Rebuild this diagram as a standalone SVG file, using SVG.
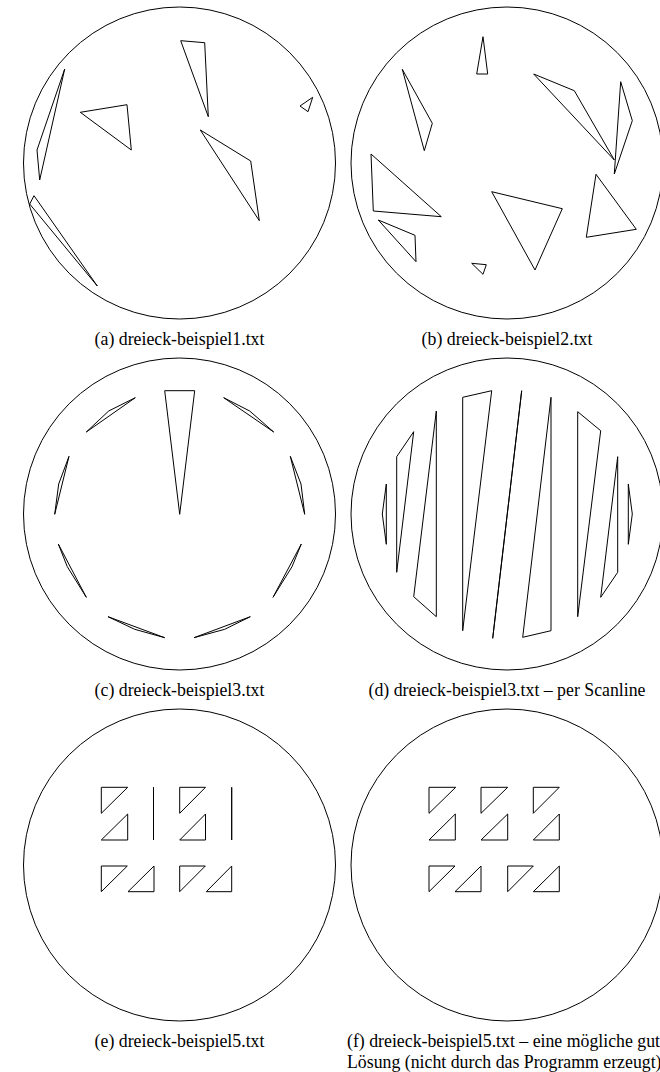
<svg xmlns="http://www.w3.org/2000/svg" width="660" height="1072" viewBox="0 0 660 1072">
<style>
.c{fill:none;stroke:#000;stroke-width:1}
.t{fill:none;stroke:#000;stroke-width:1;stroke-linejoin:miter}
.cap{font-family:"Liberation Serif","Times New Roman",serif;font-size:17.8px;fill:#000}
</style>
<rect width="660" height="1072" fill="#fff"/>
<g id="panel-a">
<circle class="c" cx="179.5" cy="163" r="156"/>
<polygon class="t" points="64.7,69 37,150 39.7,180"/>
<polygon class="t" points="80.3,112.3 127,104.7 131.3,150"/>
<polygon class="t" points="180.7,40.7 204.7,42.7 208.3,116.7"/>
<polygon class="t" points="300,106 312.7,97.3 308,111.7"/>
<polygon class="t" points="200.3,130 250.7,161 259.3,220.7"/>
<polygon class="t" points="34,195.7 29.7,204 97.3,286"/>
<text class="cap" x="179.5" y="345" text-anchor="middle">(a) dreieck-beispiel1.txt</text>
</g>
<g id="panel-b">
<circle class="c" cx="507" cy="163" r="156"/>
<polygon class="t" points="483,36.7 476.7,74 487.7,74"/>
<polygon class="t" points="402.3,69.3 432.3,123.3 424.3,150.7"/>
<polygon class="t" points="533.7,74 574.3,90.7 614.3,160"/>
<polygon class="t" points="620.7,81.7 632.3,120.7 614.3,174"/>
<polygon class="t" points="371,154 373.3,211 441.3,216.7"/>
<polygon class="t" points="378.3,220 415,235.3 416,261.7"/>
<polygon class="t" points="491.7,191.7 562.3,208.7 535,270"/>
<polygon class="t" points="596,174.3 636.3,229.3 586.3,237.3"/>
<polygon class="t" points="471.7,263.3 486.3,264.7 483,274.3"/>
<text class="cap" x="507" y="345" text-anchor="middle">(b) dreieck-beispiel2.txt</text>
</g>
<g id="panel-c">
<circle class="c" cx="179.5" cy="514" r="156"/>
<polygon class="t" points="164.7,390.7 194.7,390.7 179.7,514.3"/>
<polygon class="t" points="135.3,397.7 86.3,432 108.7,411"/>
<polygon class="t" points="223.7,397.7 273.7,432 249.7,411"/>
<polygon class="t" points="69,456.3 54.7,514.3 58.7,484"/>
<polygon class="t" points="290.3,456.3 304.7,514.3 301,484"/>
<polygon class="t" points="58.3,544 86.3,597.3 67.3,566.7"/>
<polygon class="t" points="301.3,544 273,597.3 292,566.7"/>
<polygon class="t" points="108,616.7 164.7,637.7 134.7,629.3"/>
<polygon class="t" points="250.3,616.7 194,637.7 224.7,629.3"/>
<text class="cap" x="179.5" y="696" text-anchor="middle">(c) dreieck-beispiel3.txt</text>
</g>
<g id="panel-d">
<circle class="c" cx="507" cy="514" r="156"/>
<polygon class="t" points="386.3,484 382.3,514 386.3,544.3"/>
<polygon class="t" points="396.7,456.7 413.7,431.7 396.7,572.3"/>
<polygon class="t" points="436.3,411 436.3,616.7 413.7,596.7"/>
<polygon class="t" points="462.7,397.3 491.7,390.7 462.7,630.7"/>
<polygon class="t" points="521.7,390.7 492.7,638.3 521.7,390.7"/>
<polygon class="t" points="551,397.3 551,630.7 522.7,637.3"/>
<polygon class="t" points="577.7,411.7 600.7,430.7 577.7,616.7"/>
<polygon class="t" points="617.7,456.7 617.7,572.3 600.7,597.3"/>
<polygon class="t" points="628.3,484 632.3,514 628.3,544.3"/>
<text class="cap" x="507" y="696" text-anchor="middle">(d) dreieck-beispiel3.txt – per Scanline</text>
</g>
<g id="panel-e">
<circle class="c" cx="179.5" cy="865" r="156"/>
<polygon class="t" points="101.3,787.3 127.7,787.3 101.3,813.3"/>
<polygon class="t" points="127.7,814 127.7,840 101.3,840"/>
<polygon class="t" points="153.5,787.3 153.5,840"/>
<polygon class="t" points="179.7,787.3 205.5,787.3 179.7,813.3"/>
<polygon class="t" points="205.5,814 205.5,840 179.7,840"/>
<polygon class="t" points="231.7,787.3 231.7,840"/>
<polygon class="t" points="101.3,866 127.3,866 101.3,891.7"/>
<polygon class="t" points="154,866 154,891.7 128,891.7"/>
<polygon class="t" points="179.7,866 205.3,866 179.7,891.7"/>
<polygon class="t" points="231.7,866 231.7,891.7 206.3,891.7"/>
<text class="cap" x="179.5" y="1047" text-anchor="middle">(e) dreieck-beispiel5.txt</text>
</g>
<g id="panel-f">
<circle class="c" cx="507" cy="865" r="156"/>
<polygon class="t" points="429,787.3 455.7,787.3 429,813.3"/>
<polygon class="t" points="455.3,814 455.3,840 429,840"/>
<polygon class="t" points="481,787.3 507.7,787.3 481,813.3"/>
<polygon class="t" points="507.7,814 507.7,840 481,840"/>
<polygon class="t" points="533.3,787.3 559.3,787.3 533.3,813.3"/>
<polygon class="t" points="559.3,814 559.3,840 533.3,840"/>
<polygon class="t" points="429,866 455,866 429,891.7"/>
<polygon class="t" points="481,866 481,891.7 455,891.7"/>
<polygon class="t" points="507.7,866 533.3,866 507.7,891.7"/>
<polygon class="t" points="559.3,866 559.3,891.7 533.3,891.7"/>
<text class="cap" x="347" y="1047">(f) dreieck-beispiel5.txt – eine mögliche gut</text>
<text class="cap" x="347" y="1068">Lösung (nicht durch das Programm erzeugt)</text>
</g>
</svg>
